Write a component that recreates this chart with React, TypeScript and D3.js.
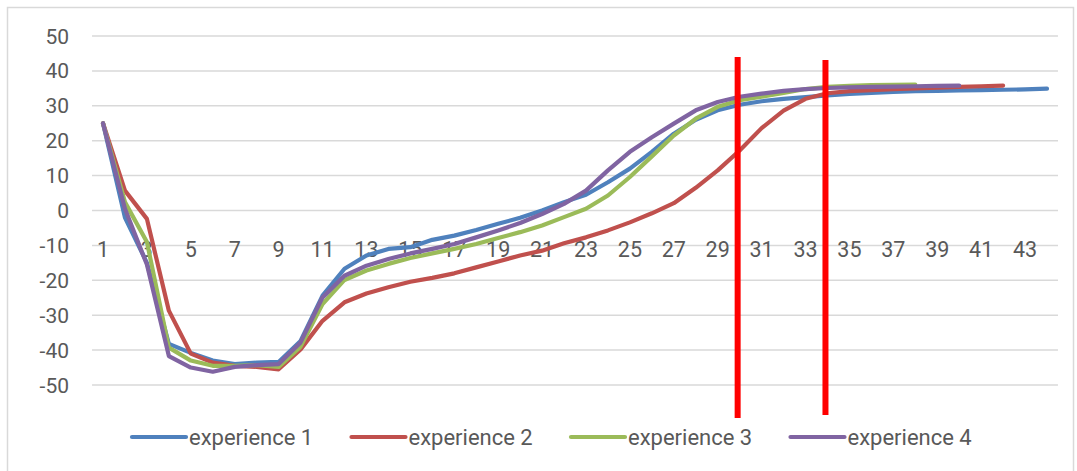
import React from "react";
import * as d3 from "d3";

const categories: number[] = Array.from({ length: 44 }, (_, i) => i + 1);
const yTicks: number[] = [50, 40, 30, 20, 10, 0, -10, -20, -30, -40, -50];
const xTickLabels: number[] = [1, 3, 5, 7, 9, 11, 13, 15, 17, 19, 21, 23, 25, 27, 29, 31, 33, 35, 37, 39, 41, 43];
const markerCategories: number[] = [30, 34];

const experience1: number[] = [
  25, -2, -15, -38.2, -40.8, -43, -44, -43.6, -43.4, -37.4,
  -24.4, -16.7, -12.9, -11, -10.5, -8.4, -7.2, -5.6, -3.8, -2.1,
  0, 2.4, 4.5, 8.1, 12, 16.8, 22, 26, 28.7, 30.3,
  31.3, 32, 32.5, 33, 33.4, 33.7, 34, 34.2, 34.3, 34.4,
  34.5, 34.6, 34.7, 34.9,
];
const experience2: number[] = [
  25, 5.7, -2.4, -28.7, -41, -43.6, -44.5, -44.8, -45.5, -39.8,
  -31.6, -26.3, -23.8, -22, -20.4, -19.3, -18, -16.3, -14.6, -12.9,
  -11.5, -9.4, -7.7, -5.7, -3.4, -0.8, 2.1, 6.5, 11.5, 17.2,
  23.6, 28.6, 32, 33.6, 34.2, 34.5, 34.8, 35, 35.2, 35.4,
  35.6, 35.8,
];
const experience3: number[] = [
  25, 2.4, -9, -39.3, -43, -44.5, -44.5, -44.3, -44.8, -39,
  -26.8, -19.9, -17.2, -15.3, -13.6, -12.3, -11, -9.6, -7.9, -6.2,
  -4.3, -1.9, 0.5, 4.3, 9.6, 15.5, 21.5, 26.3, 29.7, 31.6,
  32.6, 33.7, 34.8, 35.4, 35.7, 35.9, 36, 36.1,
];
const experience4: number[] = [
  25, 0.5, -15.5, -41.7, -45, -46.2, -44.8, -44.3, -44, -37.8,
  -24.9, -18.7, -15.8, -13.9, -12.3, -11, -9.6, -7.7, -5.7, -3.6,
  -1, 1.9, 5.7, 11.5, 16.8, 21, 24.9, 28.7, 31.1, 32.6,
  33.5, 34.3, 34.8, 35.1, 35.3, 35.4, 35.5, 35.6, 35.7, 35.8,
];

const seriesNames: string[] = ["experience 1", "experience 2", "experience 3", "experience 4"];
const seriesValues: number[][] = [experience1, experience2, experience3, experience4];
const seriesColors: string[] = ["#4F81BD", "#C0504D", "#9BBB59", "#8064A2"];

const W = 1077;
const H = 471;
const FONT = "Roboto, 'Noto Sans', sans-serif";
const TEXT = "#595959";
const GRID = "#D9D9D9";

export default function App() {
  const x = d3.scaleLinear().domain([1, 44]).range([103, 1047]);
  const y = d3.scaleLinear().domain([-50, 50]).range([385, 36]);
  const line = d3
    .line<number>()
    .x((_, i) => x(categories[i]))
    .y((d) => y(d));

  const gridX0 = x(0.5);
  const gridX1 = x(44.5);

  const legendStart = 132;
  const legendStep = 219.5;
  const legendY = 437;

  return (
    <svg
      width={W}
      height={H}
      style={{ position: "absolute", left: 0, top: 0, background: "#fff" }}
    >
      <rect x={0} y={0} width={W} height={H} fill="#fff" />
      <rect x={7.5} y={7.5} width={1066} height={490} fill="none" stroke={GRID} strokeWidth={1.5} />

      {yTicks.map((t) => (
        <line key={"g" + t} x1={gridX0} x2={gridX1} y1={y(t)} y2={y(t)} stroke={GRID} strokeWidth={1.5} />
      ))}
      {yTicks.map((t) => (
        <text
          key={"yl" + t}
          x={69}
          y={y(t)}
          dy="0.36em"
          textAnchor="end"
          fontFamily={FONT}
          fontSize={21}
          fill={TEXT}
        >
          {t}
        </text>
      ))}
      {xTickLabels.map((c) => (
        <text
          key={"xl" + c}
          x={x(c)}
          y={256.5}
          textAnchor="middle"
          fontFamily={FONT}
          fontSize={21.5}
          fill={TEXT}
        >
          {c}
        </text>
      ))}

      {seriesValues.map((vals, si) => (
        <path
          key={"s" + si}
          d={line(vals) || ""}
          fill="none"
          stroke={seriesColors[si]}
          strokeWidth={4.2}
          strokeLinejoin="round"
          strokeLinecap="round"
        />
      ))}

      {markerCategories.map((c, i) => (
        <line
          key={"m" + c}
          x1={x(c) - 2}
          x2={x(c) - 2}
          y1={i === 0 ? 57 : 60}
          y2={i === 0 ? 418 : 415}
          stroke="#FF0000"
          strokeWidth={6}
        />
      ))}

      {seriesNames.map((name, i) => {
        const lx = legendStart + i * legendStep;
        return (
          <g key={"lg" + i}>
            <line
              x1={lx}
              x2={lx + 54}
              y1={legendY}
              y2={legendY}
              stroke={seriesColors[i]}
              strokeWidth={4.2}
              strokeLinecap="round"
            />
            <text
              x={lx + 57}
              y={444.5}
              fontFamily={FONT}
              fontSize={22}
              fill={TEXT}
            >
              {name}
            </text>
          </g>
        );
      })}
    </svg>
  );
}
